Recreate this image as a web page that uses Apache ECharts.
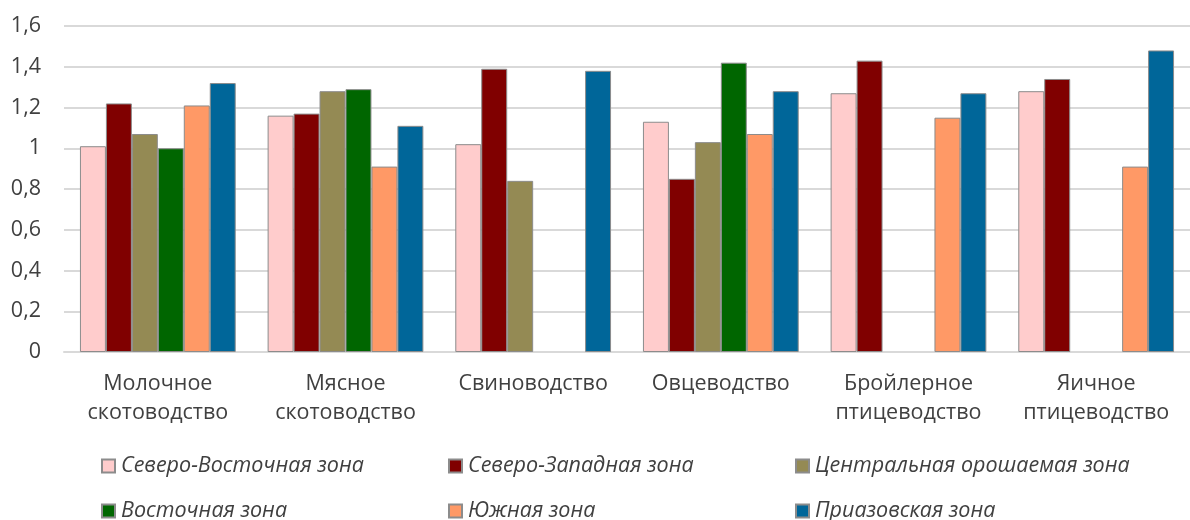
<!DOCTYPE html>
<html><head><meta charset="utf-8">
<script src="https://cdn.jsdelivr.net/npm/echarts@6/dist/echarts.min.js"></script>
<style>html,body{margin:0;padding:0;background:#fff}#c{width:1190px;height:520px}</style>
</head><body><div id="c"></div>
<script>
const categories = ['Молочное\nскотоводство','Мясное\nскотоводство','Свиноводство','Овцеводство','Бройлерное\nптицеводство','Яичное\nптицеводство'];
const seriesNames = ['Северо-Восточная зона','Северо-Западная зона','Центральная орошаемая зона','Восточная зона','Южная зона','Приазовская зона'];
const northEast = [1.01, 1.16, 1.02, 1.13, 1.27, 1.28];
const northWest = [1.22, 1.17, 1.39, 0.85, 1.43, 1.34];
const central   = [1.07, 1.28, 0.84, 1.03, null, null];
const east      = [1.00, 1.29, null, 1.42, null, null];
const south     = [1.21, 0.91, null, 1.07, 1.15, 0.91];
const azov      = [1.32, 1.11, 1.38, 1.28, 1.27, 1.48];
const colors = ['#FFCCCC','#800000','#948A54','#006600','#FF9966','#006699'];
const allData = [northEast, northWest, central, east, south, azov];
const yTicks = [0,0.2,0.4,0.6,0.8,1,1.2,1.4,1.6];

const font = '"Open Sans", "Noto Sans", sans-serif';
const legendPos = [[101,453],[448,453],[795,453],[101,498],[448,498],[795,498]];

const chart = echarts.init(document.getElementById('c'));
chart.setOption({
  animation:false,
  grid:{left:64,right:0,top:26,bottom:168,containLabel:false},
  legend: seriesNames.map((n,i)=>({
    data:[n], left:legendPos[i][0], top:legendPos[i][1], icon:'rect',
    itemWidth:13, itemHeight:13, itemGap:4, selectedMode:false, padding:0,
    textStyle:{fontFamily:font, fontSize:21.5, lineHeight:26, fontStyle:'italic', color:'#404040', padding:[0,0,0,1]}
  })),
  xAxis:{type:'category', data:categories,
    axisLine:{lineStyle:{color:'#d9d9d9',width:2}}, axisTick:{show:false},
    axisLabel:{fontFamily:font, fontSize:21.5, color:'#404040', lineHeight:29, margin:17, interval:0}
  },
  yAxis:{type:'value', min:0, max:1.6, interval:0.2,
    axisLine:{show:false}, axisTick:{show:false},
    splitLine:{lineStyle:{color:'#d9d9d9',width:2}},
    axisLabel:{fontFamily:font, fontSize:21.5, color:'#404040', margin:23,
      formatter:v=>{const t=yTicks.find(x=>Math.abs(x-v)<1e-9); return String(t!==undefined?t:v).replace('.',',');}}
  },
  series: seriesNames.map((n,i)=>({
    name:n, type:'bar', data:allData[i], barGap:'0%', barCategoryGap:'17%',
    itemStyle:{color:colors[i], borderColor:'#8c8c8c', borderWidth:1}
  }))
});
</script></body></html>
